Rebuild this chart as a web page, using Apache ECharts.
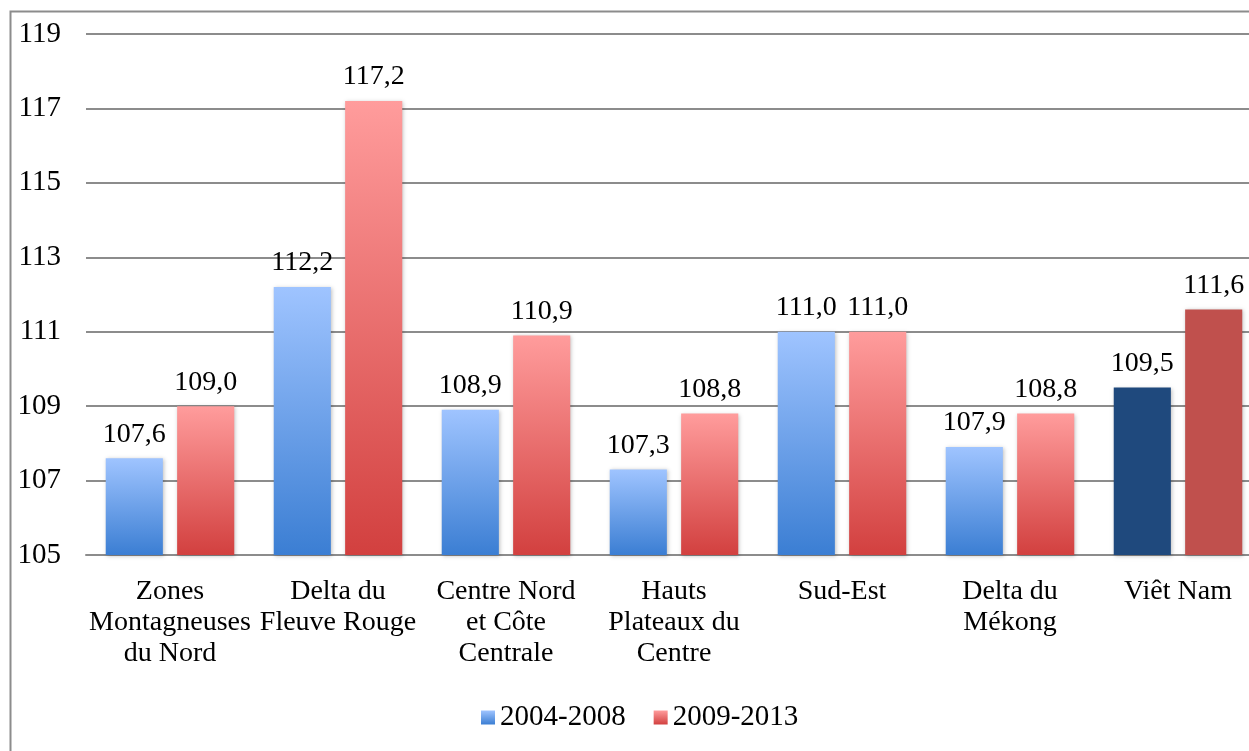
<!DOCTYPE html>
<html>
<head>
<meta charset="utf-8">
<script src="https://cdn.jsdelivr.net/npm/echarts@6/dist/echarts.min.js"></script>
<style>
  html, body { margin: 0; padding: 0; background: #fff; overflow: hidden; }
  #chart { width: 1262px; height: 751px; }
</style>
</head>
<body>
<div id="chart"></div>
<script>
// regions (categories)
const regions = [
  "Zones\nMontagneuses\ndu Nord",
  "Delta du\nFleuve Rouge",
  "Centre Nord\net Côte\nCentrale",
  "Hauts\nPlateaux du\nCentre",
  "Sud-Est",
  "Delta du\nMékong",
  "Viêt Nam"
];
const seriesNames = ["2004-2008", "2009-2013"];
const values2004 = [107.6, 112.2, 108.9, 107.3, 111.0, 107.9, 109.5];
const values2009 = [109.0, 117.2, 110.9, 108.8, 111.0, 108.8, 111.6];
const yTicks = { min: 105, max: 119, interval: 2 };

const font = "Liberation Serif";
const blueGrad = new echarts.graphic.LinearGradient(0, 0, 0, 1, [
  { offset: 0, color: "#9fc4ff" },
  { offset: 1, color: "#3b7ed3" }
]);
const redGrad = new echarts.graphic.LinearGradient(0, 0, 0, 1, [
  { offset: 0, color: "#ff9c9c" },
  { offset: 1, color: "#d2403f" }
]);

// last category (Viêt Nam) drawn in solid dark colours
function toData(vals, solid) {
  return vals.map((v, i) => i === vals.length - 1
    ? { value: v, itemStyle: { color: solid } }
    : v);
}

const labelOpt = {
  show: true,
  position: "top",
  distance: 10,
  fontFamily: font,
  fontSize: 28,
  color: "#000",
  formatter: p => p.value.toFixed(1).replace(".", ",")
};
const shadow = {
  shadowColor: "rgba(0,0,0,0.25)",
  shadowBlur: 4,
  shadowOffsetX: 1,
  shadowOffsetY: 1
};

const myChart = echarts.init(document.getElementById("chart"));
myChart.setOption({
  animation: false,
  textStyle: { fontFamily: font },
  graphic: [{
    type: "rect",
    shape: { x: 10.5, y: 11.5, width: 1300, height: 800 },
    style: { fill: "none", stroke: "#8c8c8c", lineWidth: 2 },
    silent: true
  }],
  grid: { left: 86, right: 0, top: 34, bottom: 196 },
  legend: {
    data: seriesNames,
    bottom: 14,
    left: 476,
    icon: "rect",
    itemWidth: 14,
    itemHeight: 14,
    itemGap: 28,
    textStyle: { fontFamily: font, fontSize: 29, color: "#000" }
  },
  xAxis: {
    type: "category",
    data: regions,
    axisTick: { show: false },
    axisLine: { lineStyle: { color: "#8c8c8c", width: 2 } },
    axisLabel: {
      interval: 0,
      margin: 21,
      fontFamily: font,
      fontSize: 28,
      lineHeight: 31,
      color: "#000"
    }
  },
  yAxis: {
    type: "value",
    min: yTicks.min,
    max: yTicks.max,
    interval: yTicks.interval,
    axisLine: { show: false },
    axisTick: { show: false },
    splitLine: { lineStyle: { color: "#8c8c8c", width: 2 } },
    axisLabel: {
      margin: 25,
      fontFamily: font,
      fontSize: 29,
      color: "#000"
    }
  },
  series: [
    {
      name: seriesNames[0],
      type: "bar",
      barWidth: "34%",
      barGap: "25%",
      data: toData(values2004, "#1f497d"),
      itemStyle: Object.assign({ color: blueGrad }, shadow),
      label: labelOpt
    },
    {
      name: seriesNames[1],
      type: "bar",
      barWidth: "34%",
      barGap: "25%",
      data: toData(values2009, "#c0504d"),
      itemStyle: Object.assign({ color: redGrad }, shadow),
      label: labelOpt
    }
  ]
});
</script>
</body>
</html>
